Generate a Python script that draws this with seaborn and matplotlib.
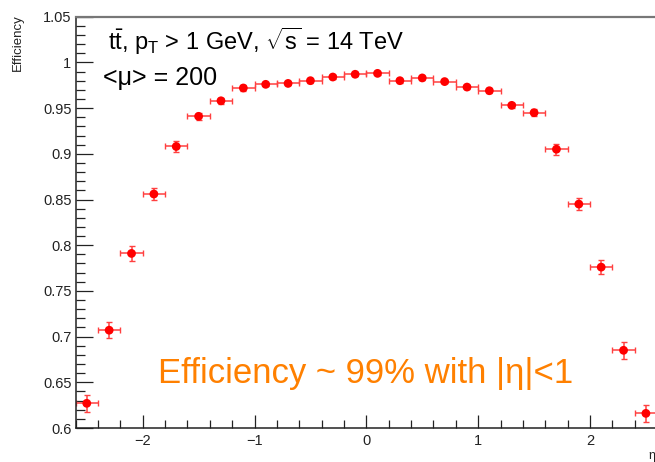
import numpy as np
import pandas as pd
import matplotlib
matplotlib.use("Agg")
import matplotlib.pyplot as plt
import seaborn as sns
from matplotlib.ticker import MultipleLocator, FixedLocator

# ---- data ----
eta = [-2.5, -2.3, -2.1, -1.9, -1.7, -1.5, -1.3, -1.1, -0.9, -0.7, -0.5, -0.3, -0.1,
       0.1, 0.3, 0.5, 0.7, 0.9, 1.1, 1.3, 1.5, 1.7, 1.9, 2.1, 2.3, 2.5]
efficiency = [0.627, 0.707, 0.791, 0.856, 0.908, 0.941, 0.958, 0.972, 0.976, 0.977, 0.980, 0.984, 0.987,
              0.988, 0.980, 0.983, 0.979, 0.973, 0.969, 0.953, 0.945, 0.905, 0.845, 0.776, 0.685, 0.616]
eff_err = [0.009, 0.009, 0.008, 0.007, 0.006, 0.004, 0.003, 0.003, 0.002, 0.002, 0.002, 0.002, 0.002,
           0.002, 0.002, 0.002, 0.002, 0.002, 0.003, 0.003, 0.004, 0.006, 0.007, 0.008, 0.009, 0.0095]
bin_halfwidth = [0.1] * len(eta)

y_ticks = [0.6, 0.65, 0.7, 0.75, 0.8, 0.85, 0.9, 0.95, 1.0, 1.05]
y_ticklabels = ["0.6", "0.65", "0.7", "0.75", "0.8", "0.85", "0.9", "0.95", "1", "1.05"]
x_ticks = [-2, -1, 0, 1, 2]
x_ticklabels = ["\u22122", "\u22121", "0", "1", "2"]

df = pd.DataFrame({"eta": eta, "eff": efficiency})

sns.set_theme(style="white")
plt.rcParams["font.family"] = ["Liberation Sans", "DejaVu Sans"]
plt.rcParams["mathtext.fontset"] = "custom"
plt.rcParams["mathtext.rm"] = "Liberation Sans"
plt.rcParams["mathtext.it"] = "Liberation Sans:italic"
plt.rcParams["mathtext.sf"] = "Liberation Sans"

W, H = 655, 462
fig = plt.figure(figsize=(W / 100, H / 100), dpi=100)
x0, x1 = 75.6, 657.1
ytop, ybot = 16.7, 428.0
ax = fig.add_axes([x0 / W, 1 - ybot / H, (x1 - x0) / W, (ybot - ytop) / H])

ax.errorbar(df["eta"], df["eff"], xerr=bin_halfwidth, yerr=eff_err, fmt="none",
            ecolor="#ff4040", elinewidth=1.1, capsize=2.2, capthick=1.0, zorder=2)
sns.scatterplot(data=df, x="eta", y="eff", ax=ax, color="#ff0000", s=40,
                edgecolor="none", linewidth=0, zorder=3, legend=False)

ax.set_xlim(-2.6, 2.6)
ax.set_ylim(0.6, 1.05)
ax.set_xlabel("")
ax.set_ylabel("")

ax.yaxis.set_major_locator(FixedLocator(y_ticks))
ax.set_yticklabels(y_ticklabels)
ax.yaxis.set_minor_locator(MultipleLocator(0.01))
ax.xaxis.set_major_locator(FixedLocator(x_ticks))
ax.set_xticklabels(x_ticklabels)
ax.xaxis.set_minor_locator(MultipleLocator(0.2))

ax.tick_params(axis="y", which="major", direction="in", length=12, width=0.9,
               color="#222222", labelsize=10.5, labelcolor="#222222", pad=3, left=True)
ax.tick_params(axis="y", which="minor", direction="in", length=6.5, width=0.9,
               color="#222222", left=True)
ax.tick_params(axis="x", which="major", direction="in", length=9.5, width=0.9,
               color="#222222", labelsize=10.5, labelcolor="#222222", pad=4, bottom=True)
ax.tick_params(axis="x", which="minor", direction="in", length=6, width=0.9,
               color="#222222", bottom=True)

for s in ["left", "bottom"]:
    ax.spines[s].set_color("#222222")
    ax.spines[s].set_linewidth(1.1)
ax.spines["top"].set_color("#777777")
ax.spines["top"].set_linewidth(1.6)
ax.spines["right"].set_visible(False)

# annotations
fig.text(108 / W, 1 - 50 / H,
         r"t$\mathrm{\bar{t}}$, p$_\mathrm{T}$ > 1 GeV, $\sqrt{\mathrm{s}}$ = 14 TeV",
         fontsize=17, color="black", ha="left", va="baseline")
fig.text(103 / W, 1 - 85 / H, "<\u03bc> = 200", fontsize=18, color="black",
         ha="left", va="baseline")
fig.text(158 / W, 1 - 383 / H, "Efficiency ~ 99% with |\u03b7|<1", fontsize=25,
         color="#ff8000", ha="left", va="baseline")

fig.text(18 / W, 1 - 14 / H, "Efficiency", rotation=90, fontsize=9.5,
         color="#222222", ha="center", va="top")
fig.text(648 / W, 1 - 456 / H, "\u03b7", fontsize=9, color="#222222",
         ha="left", va="center")

fig.savefig("out.png", dpi=100)
